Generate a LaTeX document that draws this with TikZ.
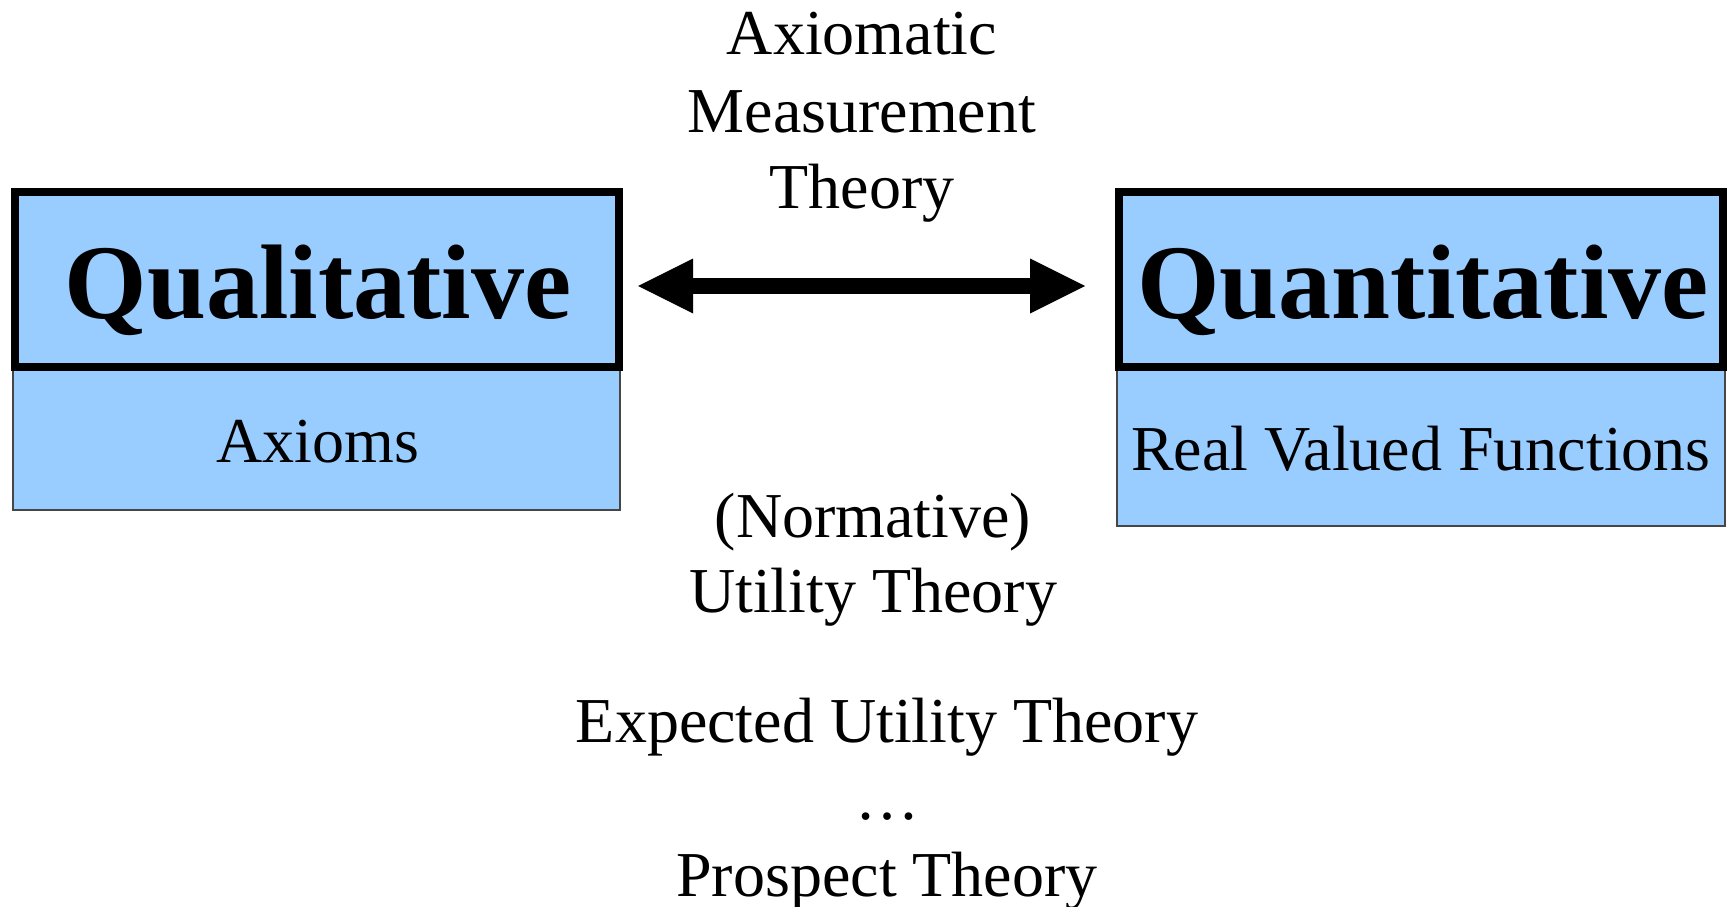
\documentclass[tikz,border=0pt]{standalone}
\usepackage{fontspec}
\setmainfont{Liberation Serif}
\usetikzlibrary{arrows.meta}
\definecolor{boxblue}{RGB}{153,204,255}
\definecolor{thinedge}{RGB}{70,70,70}
\newcommand\myheadfont{\fontsize{106}{120}\selectfont\bfseries}
\newcommand\mybodyfont{\fontsize{64}{77}\selectfont}
\tikzset{
  headbox/.style={draw=black, line width=8pt, fill=boxblue, minimum width=604pt, minimum height=175pt, inner sep=0pt},
  subbox/.style={draw=thinedge, line width=1.5pt, fill=boxblue, inner sep=0pt},
  headtext/.style={anchor=base, inner sep=0pt, font=\myheadfont},
  bodytext/.style={anchor=base, inner sep=0pt, font=\mybodyfont},
  bigarrow/.style={line width=16pt, {Triangle[length=55pt,width=55pt,line width=0pt]}-{Triangle[length=55pt,width=55pt,line width=0pt]}}
}
\begin{document}
\begin{tikzpicture}[x=1pt,y=-1pt]
\useasboundingbox (0,0) rectangle (1734,907);
% left
\node[subbox, minimum width=607pt, minimum height=143pt] (axbox) at (316.5,438.5) {};
\node[headbox] (qual) at (317,279.5) {};
\node[headtext] (qualt) at (318,318) {Qualitative};
\node[bodytext] (axt) at (318,462) {Axioms};
% right
\node[subbox, minimum width=608pt, minimum height=159pt] (rvbox) at (1421,446.5) {};
\node[headbox] (quant) at (1421,279.5) {};
\node[headtext] (quantt) at (1423,318) {Quantitative};
\node[bodytext] (rvt) at (1421,470) {Real Valued Functions};
% arrow
\coordinate (al) at (638,286);
\coordinate (ar) at (1085,286);
\draw[bigarrow] (al) -- (ar);
% top labels
\node[bodytext] (t1) at (862,55) {Axiomatic};
\node[bodytext] (t2) at (862,132) {Measurement};
\node[bodytext] (t3) at (862,208) {Theory};
% middle labels
\node[bodytext] (n1) at (873,537) {(Normative)};
\node[bodytext] (n2) at (873,612) {Utility Theory};
% bottom labels
\node[bodytext] (b1) at (887,742) {Expected Utility Theory};
\node[bodytext] (b2) at (887,819) {\dots};
\node[bodytext] (b3) at (887,896) {Prospect Theory};
\end{tikzpicture}
\end{document}
